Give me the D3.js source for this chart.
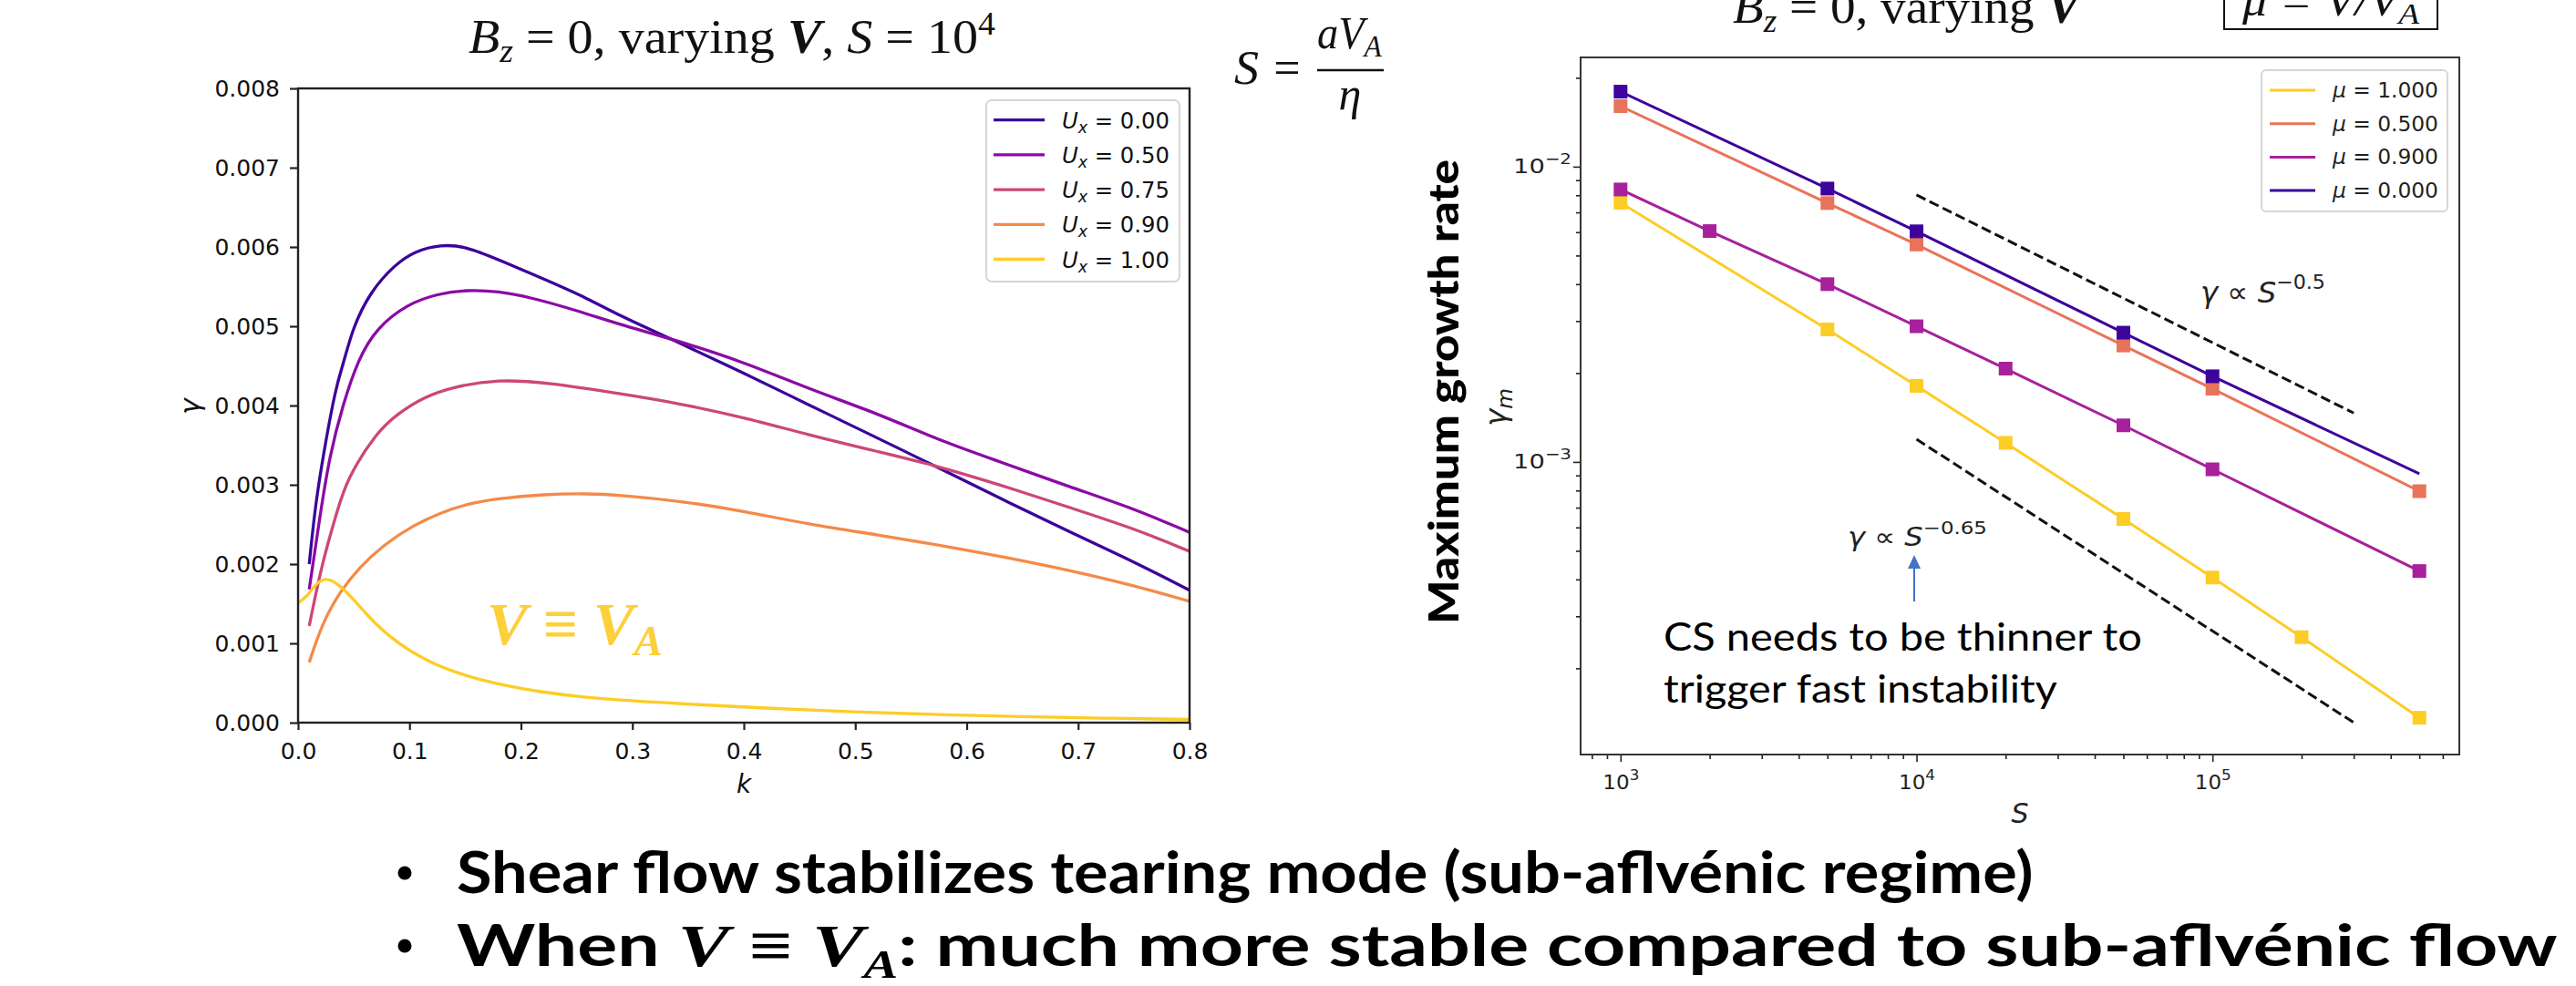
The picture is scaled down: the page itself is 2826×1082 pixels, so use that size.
<!DOCTYPE html>
<html>
<head>
<meta charset="utf-8">
<script src="https://cdn.jsdelivr.net/npm/d3@7/dist/d3.min.js"></script>
<style>
  body { margin: 0; background: #fff; }
  svg { display: block; background: #fff; }
</style>
</head>
<body>
<svg id="chart" width="2826" height="1082"></svg>
<script>
// ---- left panel: gamma(k), Bz = 0, S = 1e4 ----
const uxLabels = ["0.00", "0.50", "0.75", "0.90", "1.00"];
const uxColors = ["#3b049a", "#8b0aa5", "#cc4778", "#f48a49", "#fccd25"];

const kU000 = [0.01, 0.015, 0.0215, 0.034, 0.0406, 0.049, 0.065, 0.087, 0.105, 0.128, 0.15, 0.18, 0.223, 0.26, 0.289, 0.333, 0.40, 0.458, 0.52, 0.568, 0.63, 0.693, 0.75, 0.8];
const gU000 = [0.0020, 0.00268, 0.00329, 0.00425, 0.00452, 0.00498, 0.00544, 0.00578, 0.00595, 0.00603, 0.00601, 0.00584, 0.00558, 0.00535, 0.00513, 0.00485, 0.00441, 0.00401, 0.00359, 0.00326, 0.00283, 0.00240, 0.00203, 0.00167];

const kU050 = [0.01, 0.0204, 0.0284, 0.04, 0.054, 0.0706, 0.098, 0.125, 0.152, 0.18, 0.207, 0.25, 0.289, 0.333, 0.40, 0.458, 0.52, 0.5755, 0.63, 0.693, 0.75, 0.8];
const gU050 = [0.00168, 0.00268, 0.00337, 0.0040, 0.00459, 0.00498, 0.00528, 0.00541, 0.00546, 0.00544, 0.00537, 0.00520, 0.00502, 0.00485, 0.00455, 0.00421, 0.00390, 0.00356, 0.00329, 0.00297, 0.00270, 0.0024];

const kU075 = [0.01, 0.0218, 0.0354, 0.0434, 0.0706, 0.09, 0.1115, 0.14, 0.18, 0.223, 0.289, 0.341, 0.40, 0.458, 0.52, 0.568, 0.63, 0.693, 0.75, 0.8];
const gU075 = [0.00122, 0.00203, 0.00268, 0.00306, 0.00367, 0.0039, 0.0041, 0.00424, 0.00433, 0.00429, 0.00415, 0.00403, 0.00385, 0.00363, 0.00342, 0.00326, 0.00300, 0.00271, 0.00245, 0.00216];

const kU090 = [0.01, 0.0218, 0.038, 0.0545, 0.0763, 0.1036, 0.128, 0.152, 0.18, 0.2206, 0.26, 0.289, 0.341, 0.40, 0.458, 0.52, 0.5755, 0.63, 0.693, 0.75, 0.8];
const gU090 = [0.00076, 0.00126, 0.00166, 0.00195, 0.00224, 0.00249, 0.00265, 0.00276, 0.00283, 0.00288, 0.00289, 0.00287, 0.0028, 0.00267, 0.0025, 0.00237, 0.00224, 0.0021, 0.00192, 0.00173, 0.00153];

const kU100 = [0, 0.0082, 0.0164, 0.0245, 0.0354, 0.049, 0.068, 0.09, 0.1227, 0.1636, 0.218, 0.2727, 0.3436, 0.419, 0.5, 0.5755, 0.65, 0.72, 0.8];
const gU100 = [0.00151, 0.00159, 0.00176, 0.00183, 0.00176, 0.00157, 0.00126, 0.00099, 0.00072, 0.00053, 0.00038, 0.000295, 0.000238, 0.000183, 0.000135, 0.0001, 0.000075, 0.000057, 0.00004];

const leftXTicks = [0, 0.1, 0.2, 0.3, 0.4, 0.5, 0.6, 0.7, 0.8];
const leftYTicks = [0, 0.001, 0.002, 0.003, 0.004, 0.005, 0.006, 0.007, 0.008];

// ---- right panel: max growth rate vs S ----
const muLabels = ["1.000", "0.500", "0.900", "0.000"];
const muColors = ["#fccd25", "#e9735a", "#a6219b", "#3d049b"];

const sMu100 = [1e3, 5e3, 1e4, 2e4, 5e4, 1e5, 2e5, 5e5];
const gMu100 = [0.00755, 0.00281, 0.00181, 0.00116, 0.000641, 0.000406, 0.000255, 0.000136];
const sMu050 = [1e3, 5e3, 1e4, 5e4, 1e5, 5e5];
const gMu050 = [0.01603, 0.00753, 0.00545, 0.00248, 0.00177, 0.000796];
const sMu090 = [1e3, 2e3, 5e3, 1e4, 2e4, 5e4, 1e5, 5e5];
const gMu090 = [0.00837, 0.00605, 0.00400, 0.00288, 0.00207, 0.00133, 0.000944, 0.000427];
const sMu000 = [1e3, 5e3, 1e4, 5e4, 1e5, 5e5];
const gMu000 = [0.01795, 0.00843, 0.00604, 0.00274, 0.00195, 0.000912];
// the last mu = 0 point is drawn without a marker
const markedMu000 = 5;

// reference slopes
const sFit = [1e4, 3e5];
const gFitHalf = [0.00802, 0.001464];      // gamma ~ S^-0.5
const gFit065 = [0.001194, 0.000131];      // gamma ~ S^-0.65

const rightXTicks = [1e3, 1e4, 1e5];
const rightXExp = ["3", "4", "5"];
const rightYTicks = [1e-3, 1e-2];
const rightYExp = ["\u22123", "\u22122"];

const svg = d3.select("#chart");
const MATH = "'DejaVu Sans', sans-serif";
const SERIF = "'Liberation Serif', 'DejaVu Serif', serif";

// squeeze / stretch a text horizontally to the width it has on the slide
function fitW(sel, w) {
    const bw = sel.node().getBBox().width;
    sel.attr("transform", (sel.attr("transform") || "") + " scale(" + (w / bw) + ",1)");
    return sel;
}

function txt(parent, x, y, size, family, anchor) {
    return parent.append("text")
        .attr("transform", "translate(" + x + "," + y + ")")
        .attr("text-anchor", anchor || "start")
        .attr("font-size", size)
        .attr("font-family", family)
        .attr("fill", "#111");
}

function styleAxis(g, w) {
    g.select(".domain").remove();
    g.selectAll(".tick line").attr("stroke", "#222").attr("stroke-width", w);
}

// ================= LEFT PANEL =================
const xL = d3.scaleLinear().domain([0, 0.8]).range([327, 1305]);
const yL = d3.scaleLinear().domain([0, 0.008]).range([793, 97]);
const left = svg.append("g");

const gxL = left.append("g").attr("transform", "translate(0,793)")
    .call(d3.axisBottom(xL).tickValues(leftXTicks).tickFormat(d3.format(".1f")).tickSize(8).tickPadding(14));
const gyL = left.append("g").attr("transform", "translate(327,0)")
    .call(d3.axisLeft(yL).tickValues(leftYTicks).tickFormat(d3.format(".3f")).tickSize(9).tickPadding(11));
[gxL, gyL].forEach(function (g) {
    styleAxis(g, 2.2);
    g.selectAll(".tick text").attr("font-size", 25).attr("font-family", MATH).attr("fill", "#111");
});

const lineL = d3.line()
    .x(function (d) { return xL(d[0]); })
    .y(function (d) { return yL(d[1]); })
    .curve(d3.curveBasis);

const leftSeries = [[kU000, gU000], [kU050, gU050], [kU075, gU075], [kU090, gU090], [kU100, gU100]];
leftSeries.forEach(function (s, i) {
    left.append("path")
        .datum(d3.zip(s[0], s[1]))
        .attr("d", lineL)
        .attr("fill", "none")
        .attr("stroke", uxColors[i])
        .attr("stroke-width", 3.3)
        .attr("stroke-linejoin", "round");
});

left.append("rect")
    .attr("x", 327).attr("y", 97).attr("width", 978).attr("height", 696)
    .attr("fill", "none").attr("stroke", "#222").attr("stroke-width", 2.4);

// legend
const legL = left.append("g");
legL.append("rect").attr("x", 1082).attr("y", 110).attr("width", 212).attr("height", 199).attr("rx", 6)
    .attr("fill", "#fff").attr("fill-opacity", 0.8).attr("stroke", "#d6d6d6").attr("stroke-width", 2);
uxLabels.forEach(function (lab, i) {
    const y = 131.7 + i * 38.2;
    legL.append("line").attr("x1", 1090).attr("x2", 1146).attr("y1", y).attr("y2", y)
        .attr("stroke", uxColors[i]).attr("stroke-width", 3.3);
    const t = txt(legL, 1165, y + 9, 25, MATH);
    t.append("tspan").attr("font-style", "italic").text("U");
    t.append("tspan").attr("font-style", "italic").attr("font-size", 18).attr("dy", 5).text("x");
    t.append("tspan").attr("dy", -5).text(" = " + lab);
    fitW(t, 118);
});

// axis labels
txt(left, 816, 870, 28, MATH, "middle").attr("font-style", "italic").text("k");
txt(left, 219, 446, 30, MATH, "middle").attr("font-style", "italic")
    .attr("transform", "translate(219,446) rotate(-90)").text("\u03b3");

// V = V_A annotation
const vva = txt(left, 534, 707, 66, SERIF).attr("fill", "#fdcf3a").attr("font-weight", "bold");
vva.append("tspan").attr("font-style", "italic").text("V");
vva.append("tspan").text(" \u2261 ");
vva.append("tspan").attr("font-style", "italic").text("V");
vva.append("tspan").attr("font-style", "italic").attr("font-size", 46).attr("dy", 12).text("A");
vva.selectAll("tspan").attr("fill", "#fdcf3a");
fitW(vva, 193);

// title
const t1 = txt(svg, 514, 58, 52, SERIF);
t1.append("tspan").attr("font-style", "italic").text("B");
t1.append("tspan").attr("font-size", 35).attr("dy", 10).attr("font-style", "italic").text("z");
t1.append("tspan").attr("dy", -10).text(" = 0, varying ");
t1.append("tspan").attr("font-style", "italic").attr("font-weight", "bold").text("V");
t1.append("tspan").text(", ");
t1.append("tspan").attr("font-style", "italic").text("S");
t1.append("tspan").text(" = 10");
t1.append("tspan").attr("font-size", 35).attr("dy", -20).text("4");
fitW(t1, 578);

// S = a V_A / eta
const fm = svg.append("g");
fitW(txt(fm, 1354, 92, 52, SERIF).attr("font-style", "italic").text("S"), 27);
txt(fm, 1412, 92, 52, SERIF, "middle").text("=");
fm.append("line").attr("x1", 1445).attr("x2", 1518).attr("y1", 77).attr("y2", 77)
    .attr("stroke", "#111").attr("stroke-width", 2.5);
const num = txt(fm, 1445, 53, 50, SERIF).attr("font-style", "italic");
num.append("tspan").text("aV");
num.append("tspan").attr("font-size", 34).attr("dy", 9).text("A");
fitW(num, 71);
txt(fm, 1481, 120, 50, SERIF, "middle").attr("font-style", "italic").text("\u03b7");

// ================= RIGHT PANEL =================
const xR = d3.scaleLog().domain([Math.pow(10, 2.865), Math.pow(10, 5.834)]).range([1734, 2698]);
const yR = d3.scaleLog().domain([Math.pow(10, -3.991), Math.pow(10, -1.630)]).range([828, 63]);
const right = svg.append("g");

// minor ticks
const minorX = [], minorY = [];
[100, 1000, 10000, 100000].forEach(function (dec) {
    for (let m = 2; m <= 9; m++) {
        const v = m * dec;
        if (v > xR.domain()[0] && v < xR.domain()[1]) minorX.push(v);
    }
});
[1e-4, 1e-3, 1e-2].forEach(function (dec) {
    for (let m = 2; m <= 9; m++) {
        const v = m * dec;
        if (v > yR.domain()[0] && v < yR.domain()[1]) minorY.push(v);
    }
});

const gxRm = right.append("g").attr("transform", "translate(0,828)")
    .call(d3.axisBottom(xR).tickValues(minorX).tickFormat("").tickSize(5));
const gyRm = right.append("g").attr("transform", "translate(1734,0)")
    .call(d3.axisLeft(yR).tickValues(minorY).tickFormat("").tickSize(5));
const gxR = right.append("g").attr("transform", "translate(0,828)")
    .call(d3.axisBottom(xR).tickValues(rightXTicks).tickFormat("").tickSize(8));
const gyR = right.append("g").attr("transform", "translate(1734,0)")
    .call(d3.axisLeft(yR).tickValues(rightYTicks).tickFormat("").tickSize(8));
[gxRm, gyRm, gxR, gyR].forEach(function (g) { styleAxis(g, 1.6); g.selectAll(".tick text").remove(); });

gxR.selectAll(".tick").each(function (d, i) {
    const t = d3.select(this).append("text")
        .attr("transform", "translate(0,38)").attr("text-anchor", "middle")
        .attr("font-size", 22).attr("font-family", MATH).attr("fill", "#222");
    t.append("tspan").text("10");
    t.append("tspan").attr("font-size", 16).attr("dy", -10).text(rightXExp[i]);
    fitW(t, 40);
});
gyR.selectAll(".tick").each(function (d, i) {
    const t = d3.select(this).append("text")
        .attr("transform", "translate(-10,7)").attr("text-anchor", "end")
        .attr("font-size", 22).attr("font-family", MATH).attr("fill", "#222");
    t.append("tspan").text("10");
    t.append("tspan").attr("font-size", 16).attr("dy", -10).text(rightYExp[i]);
    fitW(t, 64);
});

const lineR = d3.line()
    .x(function (d) { return xR(d[0]); })
    .y(function (d) { return yR(d[1]); });

// reference slopes
[gFitHalf, gFit065].forEach(function (g) {
    right.append("path").datum(d3.zip(sFit, g)).attr("d", lineR)
        .attr("fill", "none").attr("stroke", "#111").attr("stroke-width", 3)
        .attr("stroke-dasharray", "11,5");
});

const rightSeries = [[sMu100, gMu100], [sMu050, gMu050], [sMu090, gMu090], [sMu000, gMu000]];
rightSeries.forEach(function (s, i) {
    const pts = d3.zip(s[0], s[1]);
    right.append("path").datum(pts).attr("d", lineR)
        .attr("fill", "none").attr("stroke", muColors[i]).attr("stroke-width", 3);
    const marked = i === 3 ? pts.slice(0, markedMu000) : pts;
    right.selectAll(null).data(marked).enter().append("rect")
        .attr("x", function (d) { return xR(d[0]) - 7.5; })
        .attr("y", function (d) { return yR(d[1]) - 7.5; })
        .attr("width", 15).attr("height", 15)
        .attr("fill", muColors[i]);
});

right.append("rect")
    .attr("x", 1734).attr("y", 63).attr("width", 964).attr("height", 765)
    .attr("fill", "none").attr("stroke", "#333").attr("stroke-width", 2);

// legend
const legR = right.append("g");
legR.append("rect").attr("x", 2481).attr("y", 77).attr("width", 204).attr("height", 155).attr("rx", 5)
    .attr("fill", "#fff").attr("fill-opacity", 0.8).attr("stroke", "#d6d6d6").attr("stroke-width", 2);
muLabels.forEach(function (lab, i) {
    const y = 99 + i * 36.7;
    legR.append("line").attr("x1", 2490).attr("x2", 2540).attr("y1", y).attr("y2", y)
        .attr("stroke", muColors[i]).attr("stroke-width", 3);
    const t = txt(legR, 2559, y + 8, 23, MATH).attr("fill", "#222");
    t.append("tspan").attr("font-style", "italic").text("\u03bc");
    t.append("tspan").text(" = " + lab);
    fitW(t, 117);
});

// slope annotations
const a1 = txt(right, 2414, 332, 32, MATH).attr("fill", "#222");
a1.append("tspan").attr("font-style", "italic").text("\u03b3");
a1.append("tspan").text(" \u221d ");
a1.append("tspan").attr("font-style", "italic").text("S");
a1.append("tspan").attr("font-size", 22).attr("dy", -15).text("\u22120.5");
fitW(a1, 137);

const a2 = txt(right, 2027, 599, 28, MATH).attr("fill", "#222");
a2.append("tspan").attr("font-style", "italic").text("\u03b3");
a2.append("tspan").text(" \u221d ");
a2.append("tspan").attr("font-style", "italic").text("S");
a2.append("tspan").attr("font-size", 20).attr("dy", -13).text("\u22120.65");
fitW(a2, 153);

// arrow
right.append("line").attr("x1", 2100).attr("x2", 2100).attr("y1", 660).attr("y2", 622)
    .attr("stroke", "#4472c4").attr("stroke-width", 2);
right.append("path").attr("d", "M2093,624 L2100,609 L2107,624 Z").attr("fill", "#4472c4");

// note
fitW(txt(right, 1825, 714, 43, "Lato, sans-serif").attr("fill", "#000").text("CS needs to be thinner to"), 525);
fitW(txt(right, 1825, 771, 43, "Lato, sans-serif").attr("fill", "#000").text("trigger fast instability"), 432);

// axis labels
const ym = txt(right, 1652, 447, 32, MATH, "middle").attr("fill", "#222")
    .attr("transform", "translate(1652,447) rotate(-90)");
ym.append("tspan").attr("font-style", "italic").text("\u03b3");
ym.append("tspan").attr("font-style", "italic").attr("font-size", 23).attr("dy", 7).text("m");
fitW(ym, 42);
txt(right, 2216, 903, 30, MATH, "middle").attr("font-style", "italic").attr("fill", "#222").text("S");

fitW(txt(svg, 1600, 430, 46, "Lato, sans-serif", "middle").attr("font-weight", 900).attr("fill", "#000")
    .attr("transform", "translate(1600,430) rotate(-90)").text("Maximum growth rate"), 510);

// right title and mu box, cut by the slide top
const t2 = txt(svg, 1901, 25, 52, SERIF);
t2.append("tspan").attr("font-style", "italic").text("B");
t2.append("tspan").attr("font-size", 35).attr("dy", 10).attr("font-style", "italic").text("z");
t2.append("tspan").attr("dy", -10).text(" = 0, varying ");
t2.append("tspan").attr("font-style", "italic").attr("font-weight", "bold").text("V");
fitW(t2, 386);

svg.append("rect").attr("x", 2440).attr("y", -20).attr("width", 234).attr("height", 52)
    .attr("fill", "none").attr("stroke", "#111").attr("stroke-width", 2);
const mb = txt(svg, 2460, 17, 46, SERIF).attr("font-style", "italic");
mb.append("tspan").text("\u03bc = V/V");
mb.append("tspan").attr("font-size", 32).attr("dy", 9).text("A");
fitW(mb, 196);

// ================= BULLETS =================
const BUL = "Lato, 'Open Sans', sans-serif";
[960, 1040].forEach(function (y) {
    svg.append("circle").attr("cx", 444).attr("cy", y - 2).attr("r", 7.5).attr("fill", "#000");
});
fitW(txt(svg, 501, 980, 64, BUL).attr("font-weight", "bold").attr("fill", "#000")
    .text("Shear flow stabilizes tearing mode (sub-aflv\u00e9nic regime)"), 1730);

const b2 = txt(svg, 501, 1060, 64, BUL).attr("font-weight", "bold").attr("fill", "#000");
b2.append("tspan").text("When ");
b2.append("tspan").attr("font-family", SERIF).attr("font-style", "italic").attr("font-size", 66).text("V");
b2.append("tspan").attr("font-family", SERIF).attr("font-size", 66).text(" \u2261 ");
b2.append("tspan").attr("font-family", SERIF).attr("font-style", "italic").attr("font-size", 66).text("V");
b2.append("tspan").attr("font-family", SERIF).attr("font-style", "italic").attr("font-size", 44).attr("dy", 13).text("A");
b2.append("tspan").attr("dy", -13).text(": much more stable compared to sub-aflv\u00e9nic flow");
fitW(b2, 2305);
</script>
</body>
</html>
